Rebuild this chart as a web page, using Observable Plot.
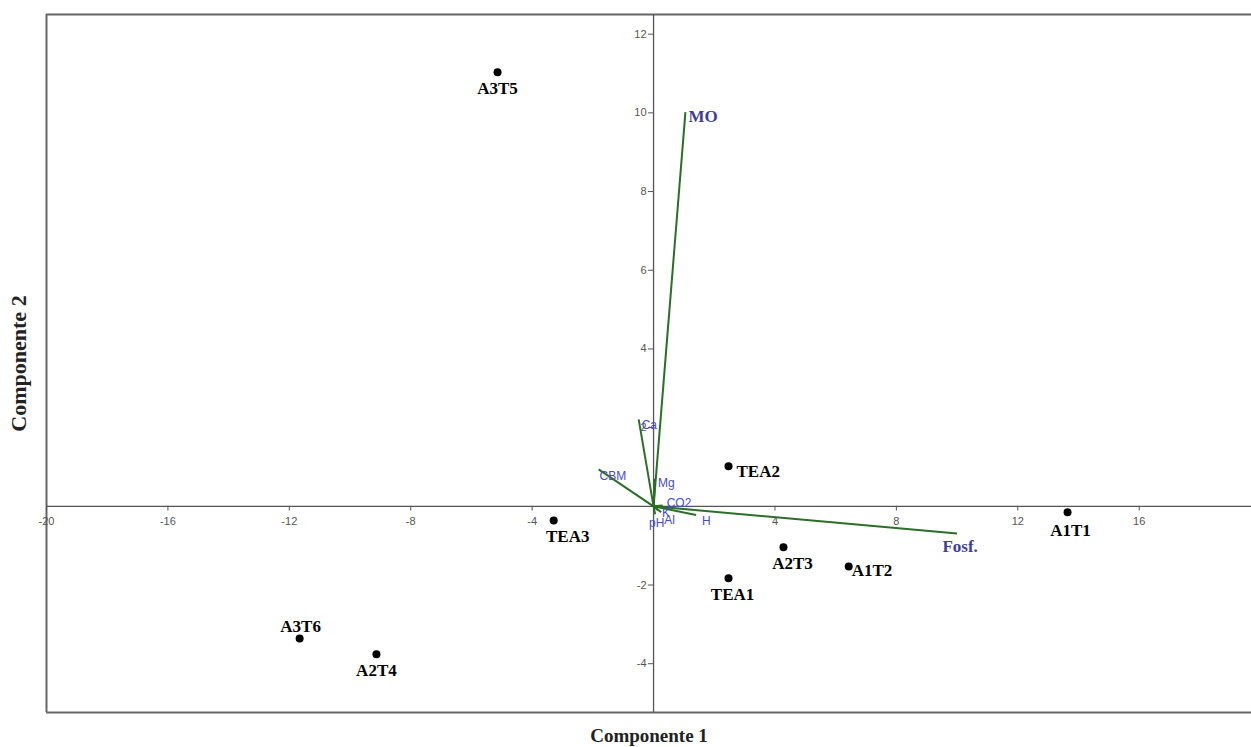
<!DOCTYPE html>
<html>
<head>
<meta charset="utf-8">
<script src="https://cdn.jsdelivr.net/npm/d3@7"></script>
<script src="https://cdn.jsdelivr.net/npm/@observablehq/plot@0.6"></script>
<style>
  html, body { margin: 0; padding: 0; background: #fff; overflow: hidden; }
</style>
</head>
<body>
<div id="chart"></div>
<script>
// ---- data ----
const sampleNames = ["A3T5", "TEA2", "A1T1", "TEA3", "A2T3", "A1T2", "TEA1", "A3T6", "A2T4"];
const sampleC1 = [-5.14, 2.47, 13.64, -3.29, 4.28, 6.43, 2.47, -11.66, -9.13];
const sampleC2 = [11.03, 1.02, -0.15, -0.36, -1.04, -1.53, -1.83, -3.36, -3.76];

const varNames = ["MO", "Fosf.", "Ca", "CBM", "Mg", "CO2", "H", "pH", "Al", "K"];
const varC1 = [1.05, 10.0, -0.49, -1.81, 0.05, 0.3, 1.4, 0.05, 0.25, 0.15];
const varC2 = [10.02, -0.69, 2.21, 0.94, 0.7, 0.02, -0.22, -0.2, -0.15, -0.1];

const xTicks = [-20, -16, -12, -8, -4, 4, 8, 12, 16];
const yTicks = [-4, -2, 2, 4, 6, 8, 10, 12];
const xDomain = [-20, 19.7];
const yDomain = [-5.24, 12.5];

const samples = sampleNames.map((n, i) => ({name: n, c1: sampleC1[i], c2: sampleC2[i]}));
const vars = varNames.map((n, i) => ({name: n, c1: varC1[i], c2: varC2[i]}));

// label placement (styling)
const sampleLabelPos = {
  A3T5: [0, 16, "middle"], TEA2: [8, 5, "start"], A1T1: [3, 18, "middle"],
  TEA3: [14, 16, "middle"], A2T3: [9, 16, "middle"], A1T2: [3, 4, "start"],
  TEA1: [4, 16, "middle"], A3T6: [1, -12, "middle"], A2T4: [0, 16, "middle"]
};
const varLabelPos = {
  MO: [3, 4, "start"], "Fosf.": [3, 13, "middle"], Ca: [3, 6, "start"],
  CBM: [1, 7, "start"], Mg: [3, 4, "start"], CO2: [4, -2, "start"],
  H: [6, 6, "start"], pH: [-6, 9, "start"], Al: [3, 8, "start"], K: [4, 3, "start"]
};
const bigVars = new Set(["MO", "Fosf."]);

const serif = "'Liberation Serif', 'Times New Roman', serif";
const sans = "'Liberation Sans', Arial, sans-serif";

function sampleText() {
  return samples.map(s => Plot.text([s], {
    x: "c1", y: "c2", text: "name",
    dx: sampleLabelPos[s.name][0], dy: sampleLabelPos[s.name][1],
    textAnchor: sampleLabelPos[s.name][2],
    fontFamily: serif, fontWeight: "bold", fontSize: 17, fill: "#000"
  }));
}
function varText() {
  return vars.map(v => Plot.text([v], {
    x: "c1", y: "c2", text: "name",
    dx: varLabelPos[v.name][0], dy: varLabelPos[v.name][1],
    textAnchor: varLabelPos[v.name][2],
    fontFamily: bigVars.has(v.name) ? serif : sans,
    fontWeight: bigVars.has(v.name) ? "bold" : "normal",
    fontSize: bigVars.has(v.name) ? 17 : 12,
    fill: bigVars.has(v.name) ? "#3d3d9a" : "#4a4ac4"
  }));
}

const chart = Plot.plot({
  width: 1251,
  height: 747,
  marginLeft: 46,
  marginRight: 0,
  marginTop: 14,
  marginBottom: 35,
  x: {domain: xDomain, axis: null},
  y: {domain: yDomain, axis: null},
  style: {background: "#fff"},
  marks: [
    // frame (top, left, bottom)
    Plot.ruleY([yDomain[1]], {stroke: "#666", strokeWidth: 2}),
    Plot.ruleY([yDomain[0]], {stroke: "#666", strokeWidth: 2}),
    Plot.ruleX([xDomain[0]], {stroke: "#666", strokeWidth: 2}),
    // axes through origin
    Plot.ruleY([0], {stroke: "#555", strokeWidth: 1.3}),
    Plot.ruleX([0], {stroke: "#555", strokeWidth: 1.3}),
    // ticks
    Plot.ruleX(xTicks, {x: d => d, y1: 0, y2: -0.12, stroke: "#555"}),
    Plot.ruleY(yTicks, {y: d => d, x1: 0, x2: -0.17, stroke: "#555"}),
    Plot.text(xTicks, {x: d => d, y: 0, dy: 15, text: d => String(d), fontFamily: sans, fontSize: 11, fill: "#555"}),
    Plot.text(yTicks, {x: 0, y: d => d, dx: -7, text: d => String(d), textAnchor: "end", fontFamily: sans, fontSize: 11, fill: "#555"}),
    // vectors
    Plot.link(vars, {x1: 0, y1: 0, x2: "c1", y2: "c2", stroke: "#2a6e2a", strokeWidth: 2}),
    ...varText(),
    // samples
    Plot.dot(samples, {x: "c1", y: "c2", r: 4, fill: "#000"}),
    ...sampleText(),
    // axis titles
    Plot.text(["Componente 1"], {frameAnchor: "bottom", dy: 23, textAnchor: "middle", lineAnchor: "middle", fontFamily: serif, fontWeight: "bold", fontSize: 19, fill: "#222"}),
    Plot.text(["Componente 2"], {frameAnchor: "left", dx: -28, textAnchor: "middle", lineAnchor: "middle", rotate: -90, fontFamily: serif, fontWeight: "bold", fontSize: 22, fill: "#222"})
  ]
});
document.getElementById("chart").appendChild(chart);
</script>
</body>
</html>
